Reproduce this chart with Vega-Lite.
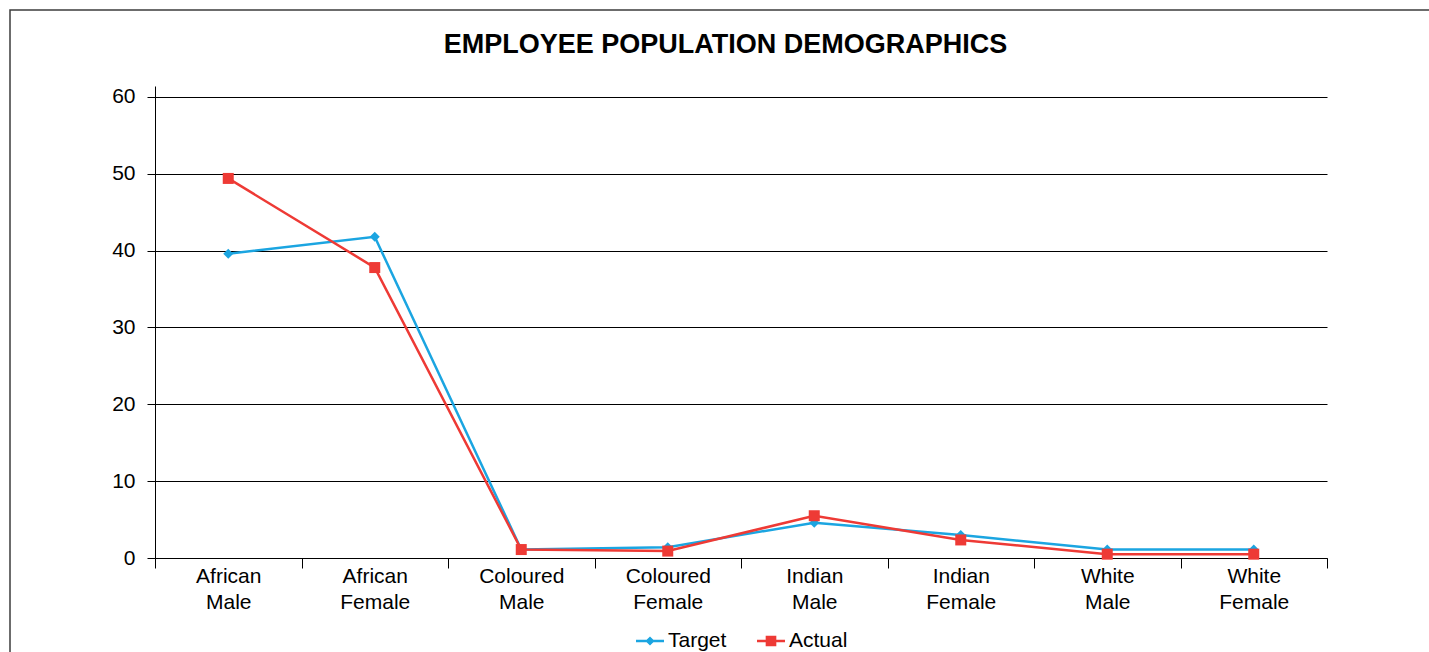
{
  "$schema": "https://vega.github.io/schema/vega-lite/v6.json",
  "autosize": {"type": "none"},
  "width": 1425,
  "height": 650,
  "padding": {"left": 10, "top": 10, "right": -6, "bottom": -8},
  "background": "white",
  "config": {
    "font": "Liberation Sans",
    "view": {"stroke": "#3c3c3c", "strokeWidth": 1.5, "fill": "white"}
  },
  "title": {
    "text": "EMPLOYEE POPULATION DEMOGRAPHICS",
    "fontSize": 27,
    "fontWeight": "bold",
    "color": "black",
    "anchor": "middle",
    "frame": "group",
    "dx": 3,
    "offset": -49
  },
  "data": {
    "values": [
      {"group": "African Male", "series": "Target", "value": 39.6},
      {"group": "African Female", "series": "Target", "value": 41.8},
      {"group": "Coloured Male", "series": "Target", "value": 1.1},
      {"group": "Coloured Female", "series": "Target", "value": 1.4},
      {"group": "Indian Male", "series": "Target", "value": 4.6},
      {"group": "Indian Female", "series": "Target", "value": 3.0},
      {"group": "White Male", "series": "Target", "value": 1.1},
      {"group": "White Female", "series": "Target", "value": 1.1},
      {"group": "African Male", "series": "Actual", "value": 49.4},
      {"group": "African Female", "series": "Actual", "value": 37.8},
      {"group": "Coloured Male", "series": "Actual", "value": 1.1},
      {"group": "Coloured Female", "series": "Actual", "value": 0.9},
      {"group": "Indian Male", "series": "Actual", "value": 5.5},
      {"group": "Indian Female", "series": "Actual", "value": 2.35},
      {"group": "White Male", "series": "Actual", "value": 0.5},
      {"group": "White Female", "series": "Actual", "value": 0.5}
    ]
  },
  "encoding": {
    "x": {
      "field": "group",
      "type": "nominal",
      "sort": ["African Male", "African Female", "Coloured Male", "Coloured Female", "Indian Male", "Indian Female", "White Male", "White Female"],
      "bandPosition": 0.5,
      "scale": {"type": "band", "paddingInner": 0, "paddingOuter": 0, "range": [145, 1317]},
      "axis": {
        "title": null,
        "orient": "bottom",
        "offset": -102,
        "grid": false,
        "domainColor": "black",
        "domainWidth": 1,
        "tickColor": "black",
        "tickSize": 10,
        "tickBand": "extent",
        "labelAngle": 0,
        "labelFontSize": 21,
        "labelColor": "black",
        "labelPadding": -3,
        "labelLineHeight": 26,
        "labelExpr": "split(datum.label, ' ')"
      }
    },
    "y": {
      "field": "value",
      "type": "quantitative",
      "scale": {"domain": [0, 61.43], "nice": false, "zero": true, "range": [548, 76]},
      "axis": {
        "title": null,
        "offset": -145,
        "values": [0, 10, 20, 30, 40, 50, 60],
        "grid": true,
        "gridColor": "black",
        "gridOpacity": 1,
        "gridWidth": 1,
        "domainColor": "black",
        "domainWidth": 1,
        "tickColor": "black",
        "tickSize": 8,
        "labelFontSize": 21,
        "labelColor": "black",
        "labelPadding": 12
      }
    }
  },
  "layer": [
    {
      "mark": {"type": "line", "strokeWidth": 2.5},
      "encoding": {
        "stroke": {
          "field": "series",
          "type": "nominal",
          "scale": {"domain": ["Target", "Actual"], "range": ["#1ba5e1", "#ee3a35"]},
          "legend": {
            "title": null,
            "orient": "none",
            "legendX": 626,
            "legendY": 617,
            "direction": "horizontal",
            "padding": 0,
            "labelFontSize": 21,
            "labelColor": "black",
            "labelOffset": 4,
            "columnPadding": 30,
            "symbolSize": 784,
            "encode": {
              "symbols": {
                "update": {
                  "shape": {"signal": "datum.value === 'Target' ? 'M-1,-0.09L-0.24,-0.09L0,-0.33L0.24,-0.09L1,-0.09L1,0.09L0.24,0.09L0,0.33L-0.24,0.09L-1,0.09Z' : 'M-1,-0.09L-0.38,-0.09L-0.38,-0.38L0.38,-0.38L0.38,-0.09L1,-0.09L1,0.09L0.38,0.09L0.38,0.38L-0.38,0.38L-0.38,0.09L-1,0.09Z'"},
                  "size": {"value": 784},
                  "fill": {"scale": "stroke", "field": "value"},
                  "fillOpacity": {"value": 1},
                  "strokeWidth": {"value": 0},
                  "opacity": {"value": 1}
                }
              }
            }
          }
        }
      }
    },
    {
      "transform": [{"filter": "datum.series === 'Target'"}],
      "mark": {"type": "point", "shape": "diamond", "size": 100, "filled": true, "opacity": 1, "color": "#1ba5e1"}
    },
    {
      "transform": [{"filter": "datum.series === 'Actual'"}],
      "mark": {"type": "point", "shape": "square", "size": 121, "filled": true, "opacity": 1, "color": "#ee3a35"}
    }
  ]
}
